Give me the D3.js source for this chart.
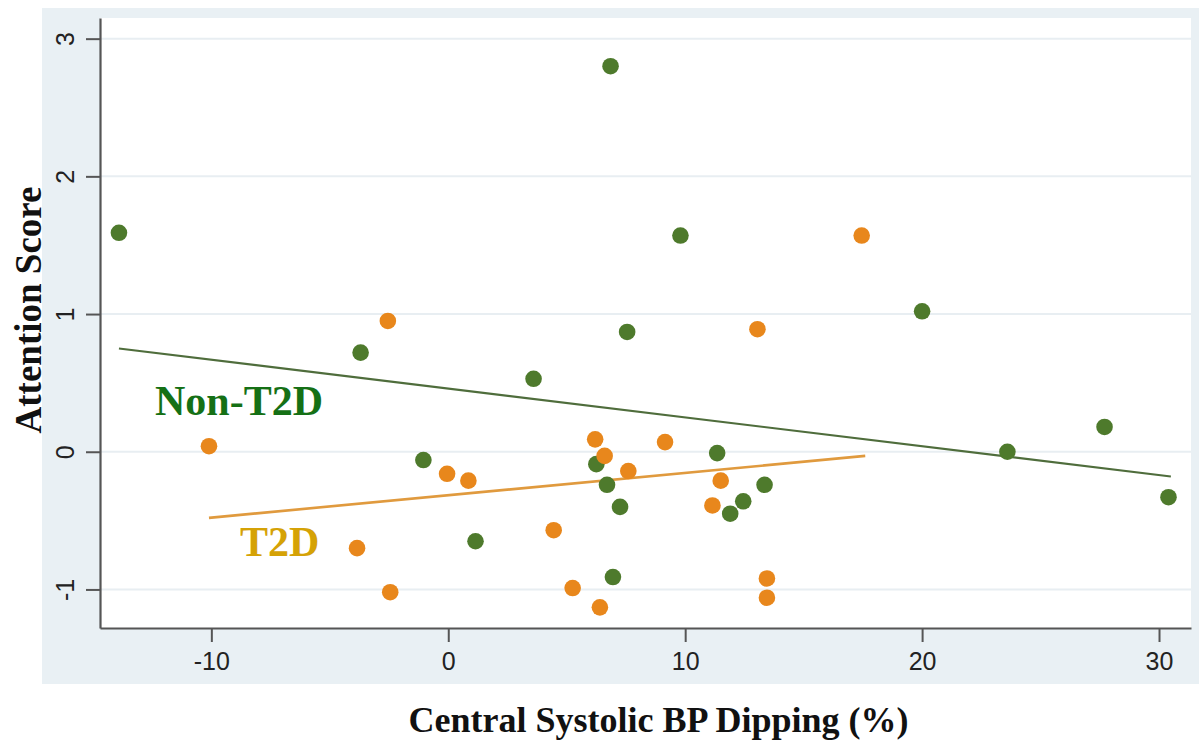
<!DOCTYPE html>
<html>
<head>
<meta charset="utf-8">
<script src="https://cdn.jsdelivr.net/npm/d3@7"></script>
<style>
  body { margin: 0; background: #fff; }
  svg { display: block; }
</style>
</head>
<body>
<div id="chart"></div>
<script>
// Non-T2D group (green)
const nonX = [-13.9, 6.85, 9.8, -3.7, 3.6, 7.55, 20.0, 23.6, 27.7, 30.4, -1.05, 6.25, 6.7, 11.35, 13.35, 7.25, 11.9, 12.45, 1.15, 6.95];
const nonY = [1.59, 2.80, 1.57, 0.72, 0.53, 0.87, 1.02, 0.00, 0.18, -0.33, -0.06, -0.09, -0.24, -0.01, -0.24, -0.40, -0.45, -0.36, -0.65, -0.91];

// T2D group (orange)
const t2dX = [-10.1, -2.55, 17.45, 13.05, 6.2, 6.6, 9.15, -0.05, 0.85, 7.6, 11.5, 11.15, 4.45, -3.85, -2.45, 5.25, 6.4, 13.45, 13.45];
const t2dY = [0.04, 0.95, 1.57, 0.89, 0.09, -0.03, 0.07, -0.16, -0.21, -0.14, -0.21, -0.39, -0.57, -0.70, -1.02, -0.99, -1.13, -0.92, -1.06];

// fitted lines, end points
const nonFitX = [-13.9, 30.5];
const nonFitY = [0.75, -0.18];
const t2dFitX = [-10.1, 17.6];
const t2dFitY = [-0.48, -0.03];

const xTicks = [-10, 0, 10, 20, 30];
const yTicks = [-1, 0, 1, 2, 3];

const width = 1199, height = 747;
const plot = { left: 100, right: 1191, top: 18, bottom: 628 };

const green = "#4e7a2c", orange = "#e8871c";

let svg = d3.select("#chart")
    .append("svg")
    .attr("width", width)
    .attr("height", height);

// outer panel + white plot region
svg.append("rect")
    .attr("x", 42).attr("y", 8)
    .attr("width", width - 42).attr("height", 676)
    .attr("fill", "#e9f0f4");
svg.append("rect")
    .attr("x", plot.left).attr("y", plot.top)
    .attr("width", plot.right - plot.left).attr("height", plot.bottom - plot.top)
    .attr("fill", "#fff");

let x = d3.scaleLinear().domain([-14.7, 31.35]).range([plot.left, plot.right]);
let y = d3.scaleLinear().domain([-1.28, 3.15]).range([plot.bottom, plot.top]);

// plain hyphen minus, as in the original
let fmt = d => String(d);

// grid lines
svg.append("g")
    .selectAll("line")
    .data(yTicks)
    .join("line")
    .attr("x1", plot.left).attr("x2", plot.right)
    .attr("y1", d => y(d)).attr("y2", d => y(d))
    .attr("stroke", "#e8eef2")
    .attr("stroke-width", 2);

// axes
let xAxis = svg.append("g")
    .attr("transform", `translate(0, ${plot.bottom})`)
    .call(d3.axisBottom(x).tickValues(xTicks).tickFormat(fmt).tickSize(14).tickSizeOuter(0).tickPadding(8));
let yAxis = svg.append("g")
    .attr("transform", `translate(${plot.left}, 0)`)
    .call(d3.axisLeft(y).tickValues(yTicks).tickFormat(fmt).tickSize(14).tickSizeOuter(0));

[xAxis, yAxis].forEach(function (a) {
    a.select(".domain").attr("stroke", "#555").attr("stroke-width", 2.2);
    a.selectAll(".tick line").attr("stroke", "#555").attr("stroke-width", 2);
});

xAxis.selectAll(".tick text")
    .attr("y", 42)
    .attr("dy", 0)
    .attr("fill", "#222")
    .style("font-family", "'Liberation Sans', Arial, sans-serif")
    .style("font-size", "25px");

// Stata-style rotated y tick labels
yAxis.selectAll(".tick text")
    .attr("x", 0).attr("dy", 0)
    .attr("text-anchor", "middle")
    .attr("transform", "translate(-26, 0) rotate(-90)")
    .attr("fill", "#222")
    .style("font-family", "'Liberation Sans', Arial, sans-serif")
    .style("font-size", "25px");

// fit lines
let line = d3.line().x(d => x(d[0])).y(d => y(d[1]));
svg.append("path")
    .datum(d3.zip(nonFitX, nonFitY))
    .attr("d", line)
    .attr("fill", "none")
    .attr("stroke", "#4f6d3c")
    .attr("stroke-width", 2.2);
svg.append("path")
    .datum(d3.zip(t2dFitX, t2dFitY))
    .attr("d", line)
    .attr("fill", "none")
    .attr("stroke", "#e09a3e")
    .attr("stroke-width", 2.6);

// points
svg.append("g")
    .selectAll("circle")
    .data(d3.zip(nonX, nonY))
    .join("circle")
    .attr("cx", d => x(d[0]))
    .attr("cy", d => y(d[1]))
    .attr("r", 8.3)
    .attr("fill", green);
svg.append("g")
    .selectAll("circle")
    .data(d3.zip(t2dX, t2dY))
    .join("circle")
    .attr("cx", d => x(d[0]))
    .attr("cy", d => y(d[1]))
    .attr("r", 8.3)
    .attr("fill", orange);

// group labels
svg.append("text")
    .attr("x", 155).attr("y", 415)
    .attr("fill", "#157015")
    .style("font-family", "'Liberation Serif', 'Times New Roman', serif")
    .style("font-weight", "bold")
    .style("font-size", "42px")
    .text("Non-T2D");
svg.append("text")
    .attr("x", 240).attr("y", 556)
    .attr("fill", "#d5a206")
    .style("font-family", "'Liberation Serif', 'Times New Roman', serif")
    .style("font-weight", "bold")
    .style("font-size", "42px")
    .text("T2D");

// axis titles
svg.append("text")
    .attr("x", (plot.left + plot.right) / 2 + 13).attr("y", 732)
    .attr("text-anchor", "middle")
    .attr("fill", "#111")
    .style("font-family", "'Liberation Serif', 'Times New Roman', serif")
    .style("font-weight", "bold")
    .style("font-size", "36px")
    .text("Central Systolic BP Dipping (%)");
svg.append("text")
    .attr("transform", "translate(41, 310) rotate(-90)")
    .attr("text-anchor", "middle")
    .attr("fill", "#111")
    .style("font-family", "'Liberation Serif', 'Times New Roman', serif")
    .style("font-weight", "bold")
    .style("font-size", "37px")
    .text("Attention Score");
</script>
</body>
</html>
